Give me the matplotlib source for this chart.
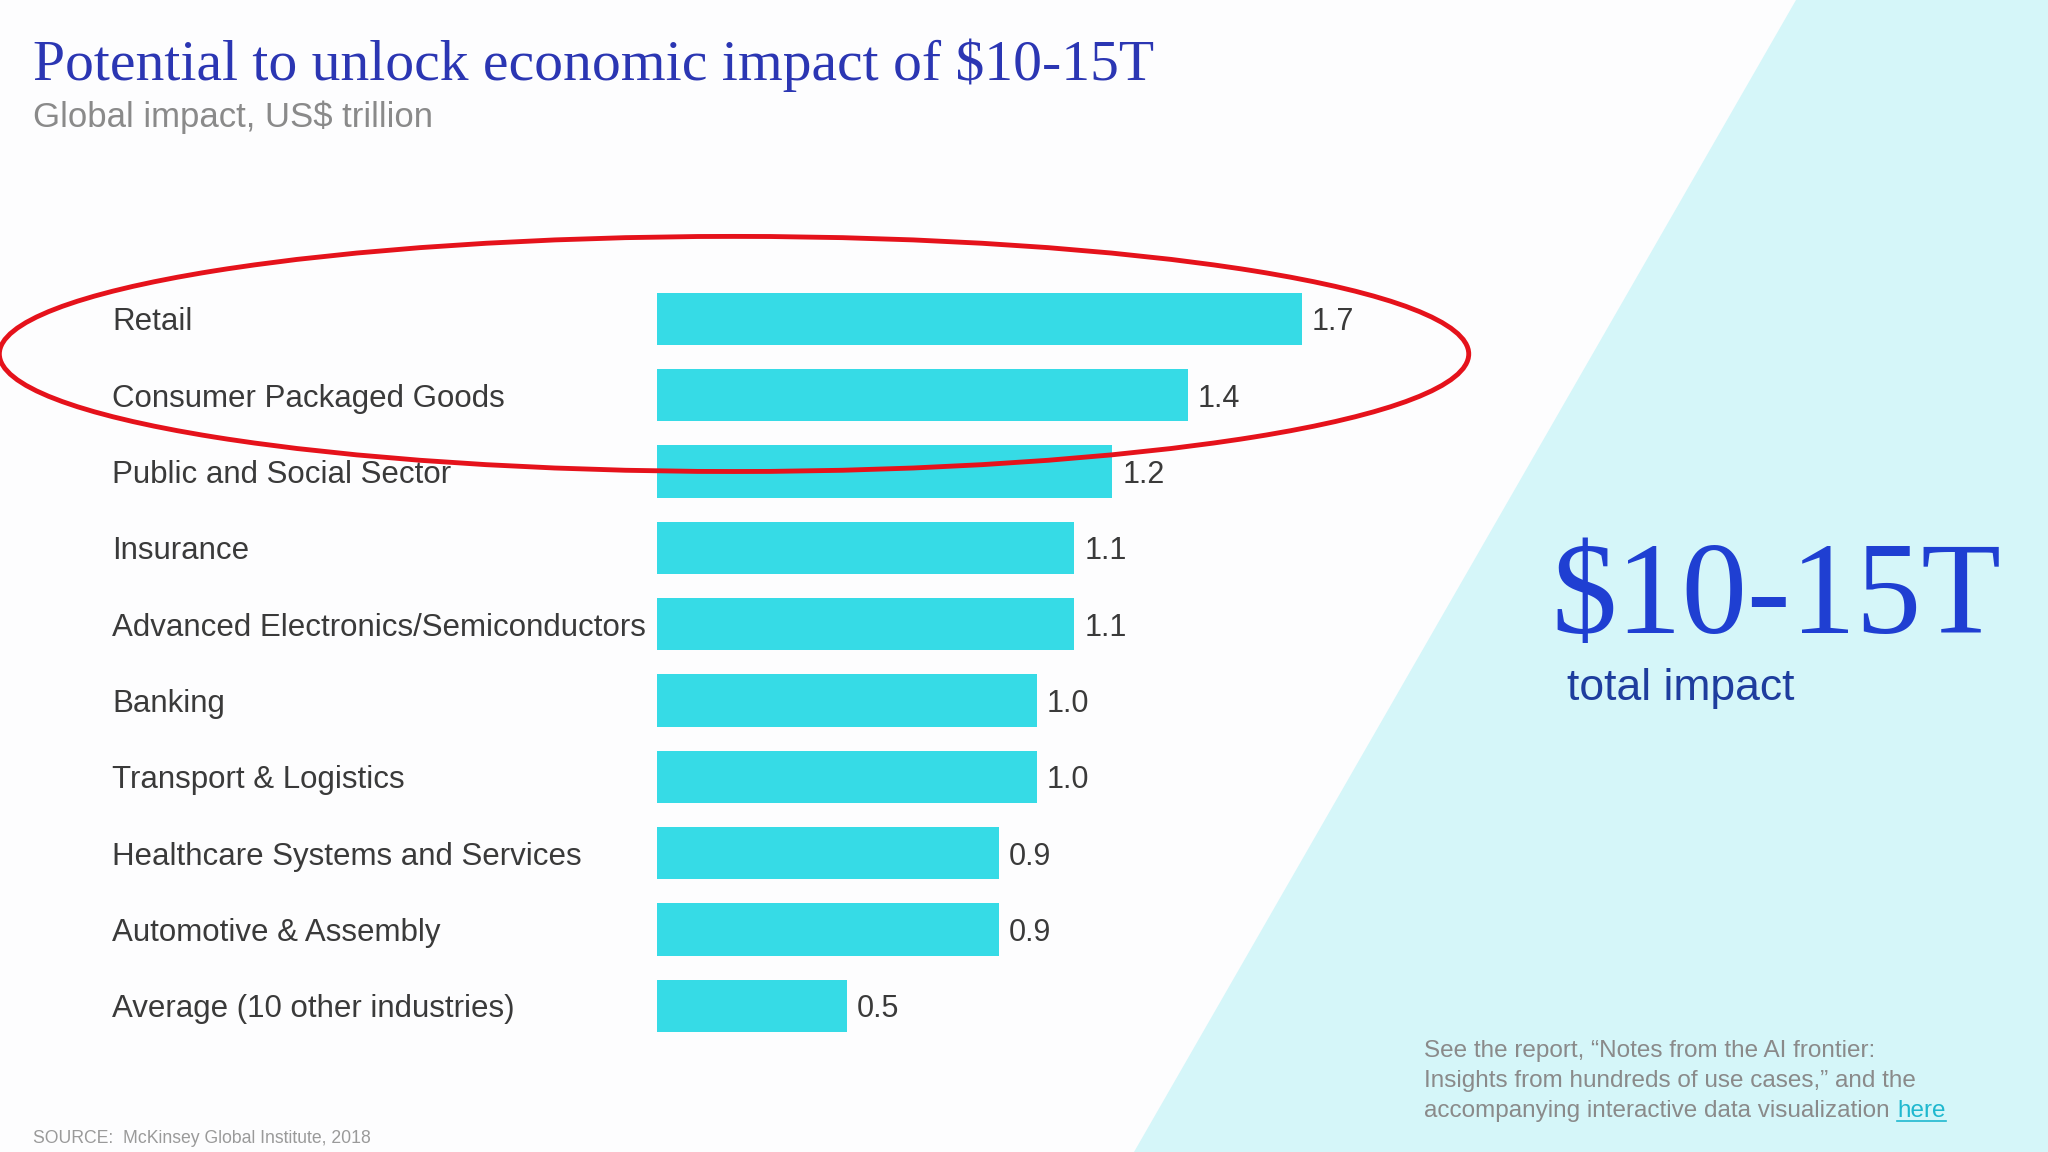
import matplotlib.pyplot as plt
from matplotlib.patches import Ellipse, Polygon
from matplotlib.transforms import blended_transform_factory

# data
industries = ["Retail", "Consumer Packaged Goods", "Public and Social Sector", "Insurance",
              "Advanced Electronics/Semiconductors", "Banking", "Transport & Logistics",
              "Healthcare Systems and Services", "Automotive & Assembly",
              "Average (10 other industries)"]
impact = [1.7, 1.4, 1.2, 1.1, 1.1, 1.0, 1.0, 0.9, 0.9, 0.5]

title = "Potential to unlock economic impact of $10-15T"
subtitle = "Global impact, US$ trillion"
big_total = "$10-15T"
total_label = "total impact"
note_lines = ["See the report, \u201cNotes from the AI frontier:",
              "Insights from hundreds of use cases,\u201d and the",
              "accompanying interactive data visualization"]
source = "SOURCE:  McKinsey Global Institute, 2018"

W, H = 1568, 882  # layout grid (reference pixels)
SANS = "Liberation Sans"
SERIF = "Liberation Serif"

fig = plt.figure(figsize=(20.48, 11.52), dpi=100)
fig.patch.set_facecolor("#fdfdfe")

# background layer
bg = fig.add_axes([0, 0, 1, 1], zorder=0)
bg.set_xlim(0, W)
bg.set_ylim(H, 0)
bg.axis("off")
bg.add_patch(Polygon([(1375, 0), (W, 0), (W, H), (868, H)], closed=True,
                     facecolor="#d5f6f9", edgecolor="none"))

# bars
ax = fig.add_axes([503 / W, 1 - 799.2 / H, 2.0 * 290.6 / W, 584.4 / H], zorder=1)
ax.patch.set_alpha(0)
ypos = list(range(len(industries)))
ax.barh(ypos, impact, height=0.685, color="#36dbe6")
ax.set_xlim(0, 2.0)
ax.set_ylim(len(industries) - 0.5, -0.5)
ax.axis("off")

lab_tr = blended_transform_factory(fig.transFigure, ax.transData)
for y, name, v in zip(ypos, industries, impact):
    ax.text(86 / W, y, name, transform=lab_tr, ha="left", va="center_baseline",
            fontsize=22.5, family=SANS, color="#3a3a3a")
    ax.annotate(f"{v:.1f}", xy=(v, y), xytext=(7, 0), textcoords="offset points",
                ha="left", va="center_baseline", fontsize=22, family=SANS, color="#3a3a3a")

# overlay layer: texts and red ellipse
ov = fig.add_axes([0, 0, 1, 1], zorder=2)
ov.set_xlim(0, W)
ov.set_ylim(H, 0)
ov.axis("off")
ov.patch.set_alpha(0)

ov.text(25, 61, title, ha="left", va="baseline", fontsize=41.5, family=SERIF, color="#2b36b3")
ov.text(25, 97, subtitle, ha="left", va="baseline", fontsize=25, family=SANS, color="#8a8a8a")

ov.add_patch(Ellipse((562, 271), 1125, 180, fill=False, edgecolor="#e5121b", linewidth=3.5))

ov.text(1188, 485, big_total, ha="left", va="baseline", fontsize=94, family=SERIF,
        color="#1f3fd2")
ov.text(1200, 536, total_label, ha="left", va="baseline", fontsize=32, family=SANS,
        color="#1e3d9e")

for k, line in enumerate(note_lines):
    t = ov.text(1090, 809 + 23 * k, line, ha="left", va="baseline", fontsize=17.5,
                family=SANS, color="#8a8a8a")

fig.canvas.draw()
bb = t.get_window_extent().transformed(ov.transData.inverted())
hx = bb.x1 + 6
h = ov.text(hx, 809 + 46, "here", ha="left", va="baseline", fontsize=17.5, family=SANS,
            color="#1fb8cf")
fig.canvas.draw()
hb = h.get_window_extent().transformed(ov.transData.inverted())
ov.plot([hb.x0, hb.x1], [858, 858], color="#1fb8cf", linewidth=1.2)

ov.text(25, 875, source, ha="left", va="baseline", fontsize=12.7, family=SANS, color="#9a9a9a")

fig.savefig("out.png", dpi=100, facecolor=fig.get_facecolor())
